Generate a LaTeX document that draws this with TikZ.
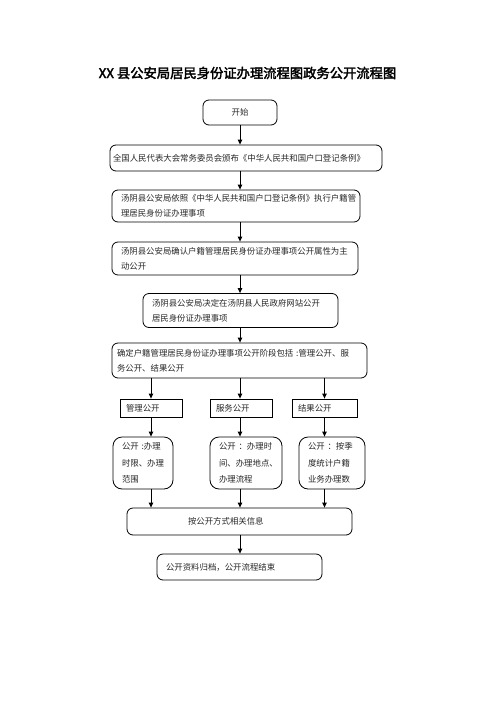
\documentclass[tikz,border=0pt]{standalone}
\usepackage{fontspec}
\setmainfont{Noto Sans CJK SC}
\newfontfamily\titlefont[FakeBold=2.5]{Noto Sans CJK SC}
\usepackage{tikz}
\usetikzlibrary{arrows.meta}
\tikzset{
  bx/.style={draw,line width=0.8pt,rounded corners=6pt,align=left,inner ysep=2pt,
    font=\fontsize{8.4}{15}\selectfont,text=black!85},
  sq/.style={bx,rounded corners=0pt,inner xsep=6pt,minimum height=18pt},
  rb/.style={bx,rounded corners=9pt,inner xsep=9pt,font=\fontsize{8.4}{16.5}\selectfont},
  ar/.style={line width=1pt,-{Triangle[length=5pt,width=4.5pt]}}
}
\begin{document}
\begin{tikzpicture}[x=1pt,y=-1pt]
\useasboundingbox (0,0) rectangle (496,702);
\node[font=\titlefont\fontsize{13.3}{15}\selectfont] (title) at (247.5,73) {XX 县公安局居民身份证办理流程图政务公开流程图};
% main chain
\node[bx,align=center,minimum width=74pt,minimum height=25pt] (start) at (240,112.5) {开始};
\node[bx,inner xsep=3pt,text width=266pt,minimum height=26pt] (law) at (246,158) {全国人民代表大会常务委员会颁布《中华人民共和国户口登记条例》};
\node[bx,inner xsep=9pt,text width=230pt,minimum height=32pt] (exec) at (236,206) {汤阴县公安局依照《中华人民共和国户口登记条例》执行户籍管\\理居民身份证办理事项};
\node[bx,inner xsep=9pt,text width=228pt,minimum height=33pt] (attr) at (235,258.5) {汤阴县公安局确认户籍管理居民身份证办理事项公开属性为主\\动公开};
\node[bx,inner xsep=9pt,text width=177pt,minimum height=34pt] (web) at (240.5,310.5) {汤阴县公安局决定在汤阴县人民政府网站公开\\居民身份证办理事项};
\node[bx,inner xsep=5pt,text width=245pt,minimum height=35pt] (stage) at (239.5,360.5) {确定户籍管理居民身份证办理事项公开阶段包括 :管理公开、服\\务公开、结果公开};
% three stages
\node[sq,text width=50pt] (mgmt) at (151,408) {管理公开};
\node[sq,text width=50pt] (serv) at (241,408) {服务公开};
\node[sq,text width=53pt] (res) at (324.5,408) {结果公开};
\node[rb,text width=42pt,minimum height=52pt] (dmgmt) at (143,463) {公开 :办理\\时限、办理\\范围};
\node[rb,text width=54pt,minimum height=52pt] (dserv) at (246,463) {公开 ：办理时\\间、办理地点、\\办理流程};
\node[rb,text width=48pt,minimum height=52pt] (dres) at (332,463) {公开 ：按季\\度统计户籍\\业务办理数};
% end
\node[bx,inner xsep=61pt,text width=103pt,minimum height=27pt] (pub) at (239.5,521.5) {按公开方式相关信息};
\node[bx,inner xsep=9pt,text width=147pt,minimum height=26pt] (fin) at (239.5,567) {公开资料归档，公开流程结束};
% connectors
\draw[ar] (start.south) -- (start.south |- law.north);
\draw[ar] (law.south -| start) -- (start |- exec.north);
\draw[ar] (exec.south -| start) -- (start |- attr.north);
\draw[ar] (attr.south -| start) -- (start |- web.north);
\draw[ar] (web.south -| start) -- (start |- stage.north);
\draw[ar] (stage.south -| mgmt) -- (mgmt.north);
\draw[ar] (stage.south -| start) -- (start |- serv.north);
\draw[ar] (stage.south -| res) -- (res.north);
\draw[ar] (mgmt.south) -- (mgmt.south |- dmgmt.north);
\draw[ar] (serv.south -| start) -- (start |- dserv.north);
\draw[ar] (res.south) -- (res.south |- dres.north);
\draw[ar] (dmgmt.south -| mgmt) -- (mgmt |- pub.north);
\draw[ar] (dserv.south -| start) -- (start |- pub.north);
\draw[ar] (dres.south -| res) -- (res |- pub.north);
\draw[ar] (pub.south -| start) -- (start |- fin.north);
\end{tikzpicture}
\end{document}
